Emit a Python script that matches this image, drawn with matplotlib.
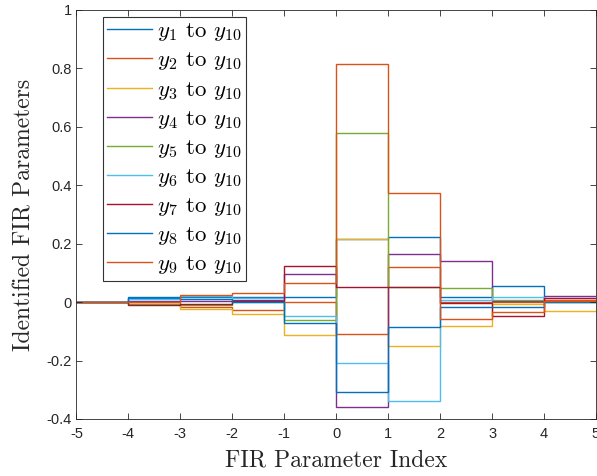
import matplotlib
matplotlib.use("Agg")
import matplotlib.pyplot as plt
import numpy as np

plt.rcParams['mathtext.fontset'] = 'cm'
plt.rcParams['axes.unicode_minus'] = False
plt.rcParams['font.family'] = ['Liberation Sans', 'DejaVu Sans']

edges = [-5, -4, -3, -2, -1, 0, 1, 2, 3, 4, 5]
labels = [r'$y_{%d}$ to $y_{10}$' % i for i in range(1, 10)]
colors = ['#0072BD', '#D95319', '#EDB120', '#7E2F8E', '#77AC30',
          '#4DBEEE', '#A2142F', '#0072BD', '#D95319']

s1 = [0, 0.014, 0.018, 0.018, 0.016, 0.215, 0.223, 0.018, 0.056, 0.004]
s2 = [0, -0.001, -0.015, -0.028, 0.001, -0.110, 0.120, 0.0, 0.001, 0.009]
s3 = [0, -0.006, -0.022, -0.039, -0.111, 0.215, -0.149, -0.083, -0.008, -0.030]
s4 = [0, 0.003, 0.005, 0.007, 0.098, -0.359, 0.164, 0.141, 0.004, 0.021]
s5 = [0, -0.008, -0.011, 0.0, -0.060, 0.580, 0.052, 0.048, 0.007, 0.002]
s6 = [0, 0.010, 0.020, 0.015, -0.048, -0.208, -0.338, 0.009, 0.016, -0.001]
s7 = [0, -0.011, -0.006, 0.005, 0.125, 0.052, 0.052, -0.003, -0.048, 0.014]
s8 = [0, 0.016, 0.010, 0.001, -0.071, -0.308, -0.086, -0.016, -0.017, 0.002]
s9 = [0, 0.0, 0.024, 0.033, 0.066, 0.815, 0.374, -0.056, -0.033, 0.005]
series = [s1, s2, s3, s4, s5, s6, s7, s8, s9]

xticks = [-5, -4, -3, -2, -1, 0, 1, 2, 3, 4, 5]
yticks = [-0.4, -0.2, 0, 0.2, 0.4, 0.6, 0.8, 1]
yticklabels = ['-0.4', '-0.2', '0', '0.2', '0.4', '0.6', '0.8', '1']

fig = plt.figure(figsize=(5.97, 4.76), dpi=100)
ax = fig.add_axes([76.4 / 597, 1 - 419 / 476, (596 - 76.4) / 597, (419 - 10) / 476])

for vals, c, lab in zip(series, colors, labels):
    ax.stairs(vals, edges, baseline=None, color=c, lw=1.0, label=lab)

ax.set_xlim(-5, 5)
ax.set_ylim(-0.4, 1)
ax.set_xticks(xticks)
ax.set_xticklabels([str(t) for t in xticks])
ax.set_yticks(yticks)
ax.set_yticklabels(yticklabels)
ax.tick_params(direction='in', top=True, right=True, length=4, width=0.6,
               colors='#262626', labelsize=10.5, labelcolor='#262626')
ax.tick_params(axis='x', pad=6)
for sp in ax.spines.values():
    sp.set_color('#262626')
    sp.set_linewidth(0.6)

ax.set_xlabel('FIR Parameter Index', fontfamily='cmr10', fontsize=17, color='#262626')
ax.xaxis.set_label_coords(0.5, -0.075)
ax.set_ylabel('Identified FIR Parameters', fontfamily='cmr10', fontsize=17, color='#262626')
ax.yaxis.set_label_coords(-0.078, 0.5)

leg = ax.legend(loc='upper left', bbox_to_anchor=(0.0506, 0.9836), borderaxespad=0,
                frameon=True, fancybox=False, edgecolor='black',
                prop={'family': 'cmr10', 'size': 16.5}, handlelength=1.95,
                labelspacing=0.31, borderpad=0.2, handletextpad=0.2)
leg.get_frame().set_linewidth(0.8)

fig.savefig('out.png', dpi=100)
